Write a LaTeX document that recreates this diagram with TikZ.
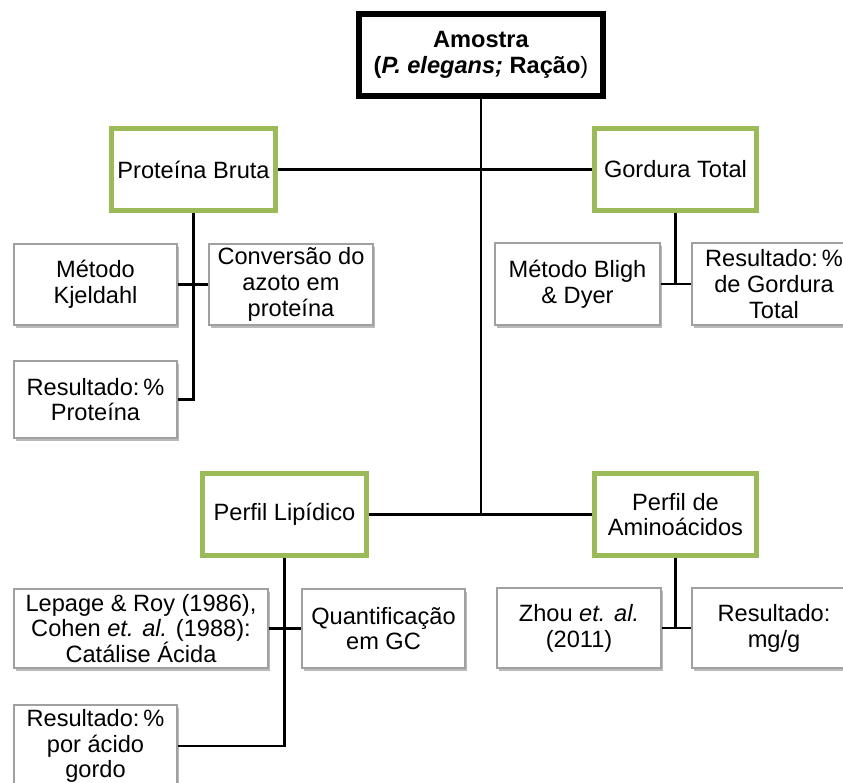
\documentclass[tikz,border=0pt]{standalone}
\usepackage{fontspec}
\setmainfont{Liberation Sans}
\usetikzlibrary{shadows}
\definecolor{boxgreen}{HTML}{9BBB59}
\definecolor{boxgray}{HTML}{A0A0A0}
\begin{document}
\begin{tikzpicture}[x=1pt,y=-1pt,
  every node/.style={font=\fontsize{23.6}{25.8}\selectfont, align=center, inner sep=2pt},
  topbox/.style={draw=black, line width=5.5pt, fill=white, rectangle},
  greenbox/.style={draw=boxgreen, line width=5pt, fill=white, rectangle},
  graybox/.style={draw=boxgray, line width=1.1pt, fill=white, rectangle,
    drop shadow={shadow xshift=1.5pt, shadow yshift=-3pt, opacity=0.45, fill=black!60}},
  conn/.style={draw=black, line width=2.2pt}]
\useasboundingbox (0,0) rectangle (843,783);
\clip (0,0) rectangle (843,783);
% main boxes
\node[topbox, minimum width=244pt, minimum height=82pt] (top) at (481,55)
  {\textbf{Amostra}\\\textbf{(\textit{P. elegans;} Ração})};
\node[greenbox, minimum width=164pt, minimum height=82pt] (prot) at (193.5,169.5) {Proteína Bruta};
\node[greenbox, minimum width=162pt, minimum height=82pt] (gord) at (675.5,169.5) {Gordura Total};
\node[greenbox, minimum width=164pt, minimum height=82pt] (lip) at (284.5,514.5) {Perfil Lipídico};
\node[greenbox, minimum width=162pt, minimum height=82pt] (amino) at (675.5,514.5) {Perfil de\\Aminoácidos};
% gray boxes
\node[graybox, minimum width=163pt, minimum height=81pt] (kjel) at (95.5,284.5) {Método\\Kjeldahl};
\node[graybox, minimum width=164pt, minimum height=81pt] (conv) at (291,284.5) {Conversão do\\azoto em\\proteína};
\node[graybox, minimum width=163pt, minimum height=77pt] (resprot) at (95.5,399.5) {Resultado:\,\%\\Proteína};
\node[graybox, minimum width=165pt, minimum height=82pt] (bligh) at (577.5,284) {Método Bligh\\\& Dyer};
\node[graybox, minimum width=164pt, minimum height=82pt] (resgord) at (774,284) {Resultado:\,\%\\de Gordura\\Total};
\node[graybox, minimum width=254pt, minimum height=79pt] (lep) at (141,628.5) {Lepage \& Roy (1986),\\Cohen \textit{et. al.} (1988):\\Catálise Ácida};
\node[graybox, minimum width=163pt, minimum height=79pt] (quant) at (383.5,628.5) {Quantificação\\em GC};
\node[graybox, minimum width=163pt, minimum height=82pt] (resacid) at (95.5,746) {Resultado:\,\%\\por ácido\\gordo};
\node[graybox, minimum width=164pt, minimum height=80pt] (zhou) at (579,628) {Zhou \textit{et. al.}\\(2011)};
\node[graybox, minimum width=164pt, minimum height=80pt] (resmg) at (774,628) {Resultado:\\mg/g};
% connectors
\draw[conn] (prot.east) -- (gord.west);
\draw[conn] (lip.east) -- (amino.west);
\draw[conn] (top.south) -- (top.south |- lip.east);
\draw[conn] (prot.south) -- (prot.south |- resprot.east) -- (resprot.east);
\draw[conn] (kjel.east) -- (conv.west);
\draw[conn] (gord.south) -- (gord.south |- bligh.east);
\draw[conn] (bligh.east) -- (resgord.west);
\draw[conn] (lip.south) -- (lip.south |- resacid.east) -- (resacid.east);
\draw[conn] (lep.east) -- (quant.west);
\draw[conn] (amino.south) -- (amino.south |- zhou.east);
\draw[conn] (zhou.east) -- (resmg.west);
\end{tikzpicture}
\end{document}
